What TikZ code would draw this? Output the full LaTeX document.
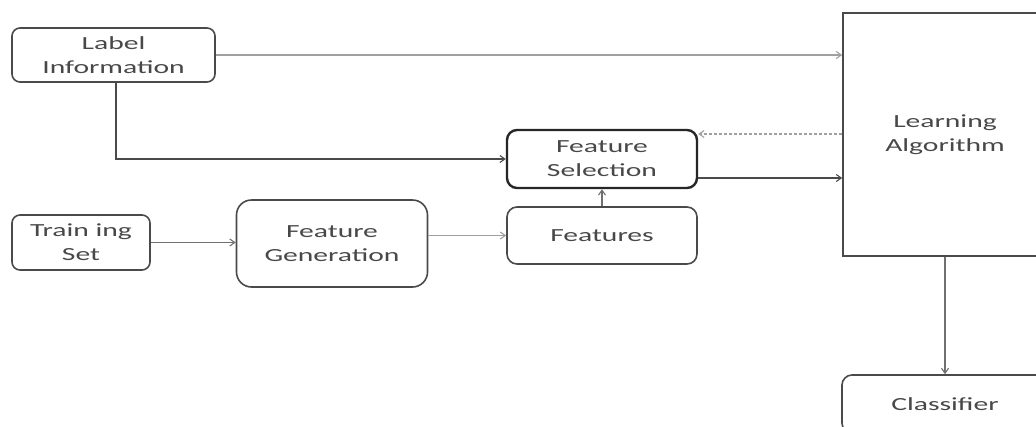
\documentclass[tikz,border=0pt]{standalone}
\usepackage{fontspec}
\newfontfamily\diagfont[FakeStretch=1.6]{Carlito}
\usetikzlibrary{arrows.meta}
\definecolor{txt}{HTML}{484848}
\definecolor{edge}{HTML}{4A4A4A}
\definecolor{lightline}{HTML}{A0A0A0}
\definecolor{midline}{HTML}{707070}
\tikzset{
  box/.style={draw=edge, line width=1.6pt, fill=white, rounded corners=8pt,
    inner sep=0pt, align=center, text=txt,
    font=\diagfont\fontsize{18.5}{24}\selectfont},
  boldbox/.style={box, draw=black!85, line width=2.4pt},
  bigbox/.style={box, rounded corners=0pt},
  link/.style={-{Straight Barb[length=5pt,width=7pt]}, line width=1.1pt},
  darklink/.style={link, draw=edge},
  graylink/.style={link, draw=midline},
  paleline/.style={link, draw=lightline},
  dashlink/.style={link, draw=lightline, dashed, dash pattern=on 3pt off 2pt},
}
\begin{document}
\begin{tikzpicture}[x=1pt,y=-1pt]
  \useasboundingbox (0,0) rectangle (1036,426);
  \fill[white] (0,0) rectangle (1036,426);
  \clip (0,0) rectangle (1036,426);

  % boxes
  \node[box, minimum width=203pt, minimum height=54pt] (label) at (113.5,55) {Label\\Information};
  \node[box, minimum width=138pt, minimum height=55pt] (train) at (81,242.5) {Train ing\\Set};
  \node[box, rounded corners=15pt, minimum width=191pt, minimum height=87pt] (gen) at (332,243.5) {Feature\\Generation};
  \node[boldbox, rounded corners=10pt, minimum width=190pt, minimum height=58pt] (sel) at (602,159) {Feature\\Selection};
  \node[box, rounded corners=10pt, minimum width=190pt, minimum height=57pt] (feat) at (602,235.5) {Features};
  \node[bigbox, minimum width=204pt, minimum height=243pt] (learn) at (945,134.5) {Learning\\Algorithm};
  \node[box, rounded corners=10pt, minimum width=206pt, minimum height=58pt] (clf) at (945,404) {Classifier};

  % connectors
  \draw[paleline] (label.east) -- (label.east -| learn.west);
  \draw[darklink] (label.south -| 116,0) |- (sel.west);
  \draw[graylink] (train.east) -- (gen.west |- train.east);
  \draw[paleline] (gen.east |- feat.west) -- (feat.west);
  \draw[graylink] (feat.north) -- (sel.south);
  \draw[dashlink] (learn.west |- 0,134) -- (sel.east |- 0,134);
  \draw[darklink] (sel.east |- 0,178) -- (learn.west |- 0,178);
  \draw[graylink] (learn.south -| clf.north) -- (clf.north);
\end{tikzpicture}
\end{document}
